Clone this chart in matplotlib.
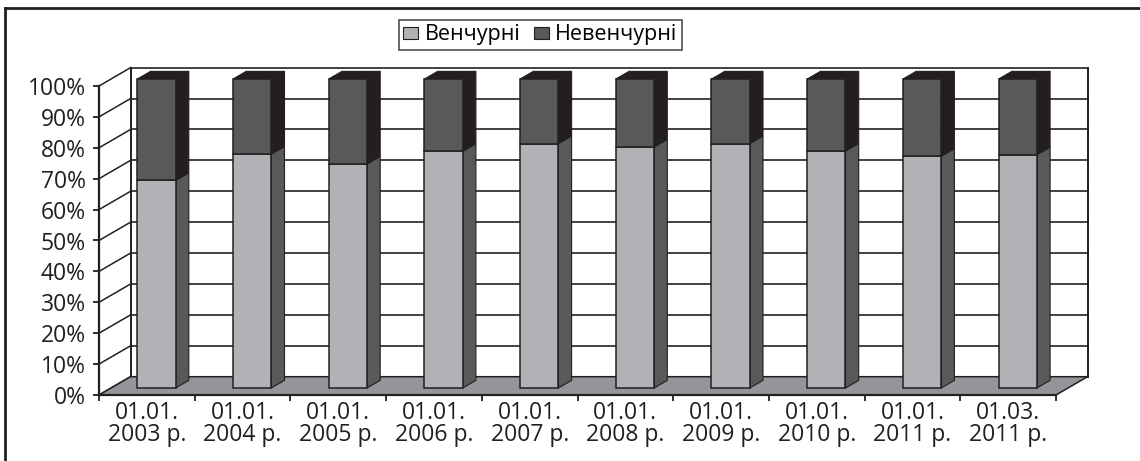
import numpy as np
import matplotlib.pyplot as plt
from matplotlib.patches import Polygon, Patch
from matplotlib.lines import Line2D

plt.rcParams['font.family'] = ['Open Sans', 'DejaVu Sans']

dates = ['01.01.\n2003 р.', '01.01.\n2004 р.', '01.01.\n2005 р.', '01.01.\n2006 р.',
         '01.01.\n2007 р.', '01.01.\n2008 р.', '01.01.\n2009 р.', '01.01.\n2010 р.',
         '01.01.\n2011 р.', '01.03.\n2011 р.']
venture = np.array([67.2, 75.7, 72.5, 76.6, 79.1, 78.0, 79.1, 76.7, 75.0, 75.5])
non_venture = 100 - venture
series_names = ['Венчурні', 'Невенчурні']

c_light = '#b1b2b5'
c_dark = '#58595b'
c_black = '#231f20'
c_floor = '#939598'
c_grid = '#414042'

fig = plt.figure(figsize=(11.4, 4.61), dpi=100)
ax = fig.add_axes([99 / 1140, 66 / 461, 957 / 1140, 309 / 461])
ax.set_xlim(0, 10)
ax.set_ylim(0, 100)
ax.patch.set_visible(False)

# depth of the fake 3d box (data units)
DX = 31.5 / 95.7
DY = 18.3 / 3.09
f0, f1 = 0.38, 0.80   # bar front / back depth
bw = 0.4

def proj(x, v, d):
    return (x + d * DX, v + d * DY)

# back wall + side wall grid
for v in range(0, 101, 10):
    ax.add_line(Line2D(*zip(proj(0, v, 0), proj(0, v, 1)), color=c_black, lw=1.1, clip_on=False, zorder=1))
    ax.add_line(Line2D(*zip(proj(0, v, 1), proj(10, v, 1)), color=c_grid, lw=1.4, clip_on=False, zorder=1))
for x in (0, 10):
    ax.add_line(Line2D(*zip(proj(x, 0, 1), proj(x, 100, 1)), color=c_black, lw=1.4, clip_on=False, zorder=1))

floor = Polygon([proj(0, 0, 0), proj(10, 0, 0), proj(10, 0, 1), proj(0, 0, 1)],
                closed=True, facecolor=c_floor, edgecolor=c_black, lw=1.1, clip_on=False, zorder=2)
ax.add_patch(floor)

centers = np.arange(len(dates)) + 0.475
bottoms = np.zeros(len(dates))
faces = [(c_light, c_dark), (c_dark, c_black)]
for vals, (front, side) in zip([venture, non_venture], faces):
    ax.bar(centers + f0 * DX, vals, width=bw, bottom=bottoms + f0 * DY, color=front,
           edgecolor=c_black, lw=1.1, clip_on=False, zorder=4)
    for c, b, h in zip(centers, bottoms, vals):
        xr = c + bw / 2
        ax.add_patch(Polygon([proj(xr, b, f0), proj(xr, b + h, f0), proj(xr, b + h, f1), proj(xr, b, f1)],
                             closed=True, facecolor=side, edgecolor=c_black, lw=0.8, clip_on=False, zorder=3))
    bottoms = bottoms + vals

for c in centers:
    xl, xr = c - bw / 2, c + bw / 2
    ax.add_patch(Polygon([proj(xl, 100, f0), proj(xr, 100, f0), proj(xr, 100, f1), proj(xl, 100, f1)],
                         closed=True, facecolor=c_black, edgecolor=c_black, lw=0.8, clip_on=False, zorder=3))

# axes
for s in ['top', 'right']:
    ax.spines[s].set_visible(False)
for s in ['left', 'bottom']:
    ax.spines[s].set_color(c_black)
    ax.spines[s].set_linewidth(1.6)
    ax.spines[s].set_zorder(5)
ax.set_yticks(range(0, 101, 10))
ax.set_yticklabels([f'{v}%' for v in range(0, 101, 10)])
ax.set_xticks(range(0, 11))
ax.set_xticklabels([])
ax.set_xticks(np.arange(len(dates)) + 0.5, minor=True)
ax.set_xticklabels(dates, minor=True, linespacing=0.92)
ax.tick_params(axis='both', which='major', length=4.5, width=1.3, color=c_black, direction='out')
ax.tick_params(axis='y', labelsize=16.5, pad=5, colors=c_black)
ax.tick_params(axis='x', which='minor', length=0, labelsize=16.5, pad=4, labelcolor=c_black)

handles = [Patch(facecolor=c_light, edgecolor=c_black, lw=0.8),
           Patch(facecolor=c_dark, edgecolor=c_black, lw=0.8)]
leg = fig.legend(handles, series_names, loc='upper left', bbox_to_anchor=(399 / 1140, 1 - 20 / 461),
                 ncol=2, fontsize=15.5, frameon=True, fancybox=False, handlelength=0.7, handleheight=0.5,
                 handletextpad=0.3, columnspacing=0.6, borderpad=0.2, borderaxespad=0)
leg.get_frame().set_edgecolor(c_black)
leg.get_frame().set_linewidth(1.2)

# outer frame (cropped)
fig.add_artist(Line2D([5 / 1140, 1], [1 - 8 / 461] * 2, transform=fig.transFigure, color=c_black, lw=2))
fig.add_artist(Line2D([5 / 1140] * 2, [0, 1 - 8 / 461], transform=fig.transFigure, color=c_black, lw=2))

fig.savefig('out.png', dpi=100)
